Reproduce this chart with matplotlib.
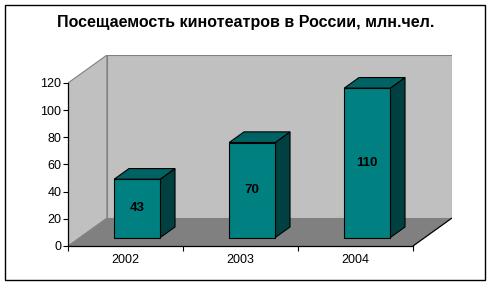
import matplotlib
matplotlib.use("Agg")
import matplotlib.pyplot as plt
from matplotlib.patches import Polygon, Rectangle

# ---- data ----
categories = ["2002", "2003", "2004"]
values = [43, 70, 110]
y_ticks = [0, 20, 40, 60, 80, 100, 120]
title = "Посещаемость кинотеатров в России, млн.чел."

# ---- style ----
W, H, DPI = 492, 286, 100
FONT = "Liberation Sans"
DX, DY = 0.339, 20.6          # full depth offset in data units
YMAX = 120
XMAX = len(categories)
Z0, Z1 = 0.30, 0.68           # bar depth range (fraction of full depth)
XA, XB = 0.30, 0.70           # bar extent within category

wall_c = "#C0C0C0"
floor_c = "#808080"
front_c = "#008080"
top_c = "#006262"
side_c = "#004040"

fig = plt.figure(figsize=(W / DPI, H / DPI), dpi=DPI)
fig.patch.set_facecolor("white")
fig.patches.append(Rectangle((5 / W, 6 / H), 480 / W, 275 / H, transform=fig.transFigure,
                             fill=False, edgecolor="black", linewidth=1.0))

fig.text(245.5 / W, 1 - 23 / H, title, ha="center", va="center",
         fontsize=11.5, fontweight="bold", family=FONT)

ax = fig.add_axes([68 / W, 40 / H, (452 - 68) / W, (246 - 55) / H])
ax.set_xlim(0, XMAX + DX)
ax.set_ylim(0, YMAX + DY)
ax.patch.set_visible(False)


def P(x, y, z):
    return (x + z * DX, y + z * DY)


# side wall
ax.add_patch(Polygon([P(0, 0, 0), P(0, 0, 1), P(0, YMAX, 1), P(0, YMAX, 0)], closed=True,
                     facecolor=wall_c, edgecolor=floor_c, linewidth=0.8, zorder=1))
# back wall
ax.add_patch(Polygon([P(0, 0, 1), P(XMAX, 0, 1), P(XMAX, YMAX, 1), P(0, YMAX, 1)], closed=True,
                     facecolor=wall_c, edgecolor=floor_c, linewidth=0.8, zorder=1))
# floor
ax.add_patch(Polygon([P(0, 0, 0), P(XMAX, 0, 0), P(XMAX, 0, 1), P(0, 0, 1)], closed=True,
                     facecolor=floor_c, edgecolor="none", zorder=2))
ax.plot(*zip(P(XMAX, 0, 0), P(XMAX, 0, 1)), color="black", linewidth=0.9, zorder=2.5,
        solid_capstyle="butt")

for i, v in enumerate(values):
    x0, x1 = i + XA, i + XB
    front = [P(x0, 0, Z0), P(x1, 0, Z0), P(x1, v, Z0), P(x0, v, Z0)]
    top = [P(x0, v, Z0), P(x1, v, Z0), P(x1, v, Z1), P(x0, v, Z1)]
    side = [P(x1, 0, Z0), P(x1, 0, Z1), P(x1, v, Z1), P(x1, v, Z0)]
    for poly, c in ((side, side_c), (top, top_c), (front, front_c)):
        ax.add_patch(Polygon(poly, closed=True, facecolor=c, edgecolor="black",
                             linewidth=0.8, zorder=3))
    cx, cy = P((x0 + x1) / 2, v / 2, Z0)
    ax.text(cx, cy, str(v), ha="center", va="center", fontsize=9.5,
            fontweight="bold", family=FONT, zorder=4)

for s in ("top", "right"):
    ax.spines[s].set_visible(False)
ax.spines["left"].set_bounds(0, YMAX)
ax.spines["bottom"].set_bounds(0, XMAX)
for s in ("left", "bottom"):
    ax.spines[s].set_linewidth(0.9)
    ax.spines[s].set_zorder(5)

ax.set_yticks(y_ticks)
ax.set_yticklabels([str(t) for t in y_ticks], family=FONT, fontsize=9)
ax.tick_params(axis="y", direction="out", length=3.3, width=0.8, pad=1.5)

ax.set_xticks(range(XMAX + 1))
ax.set_xticklabels([])
ax.set_xticks([i + 0.5 for i in range(XMAX)], minor=True)
ax.set_xticklabels(categories, minor=True, family=FONT, fontsize=9)
ax.tick_params(axis="x", which="major", direction="out", length=3.3, width=0.8)
ax.tick_params(axis="x", which="minor", length=0, pad=6)

fig.savefig("out.png", dpi=DPI)
